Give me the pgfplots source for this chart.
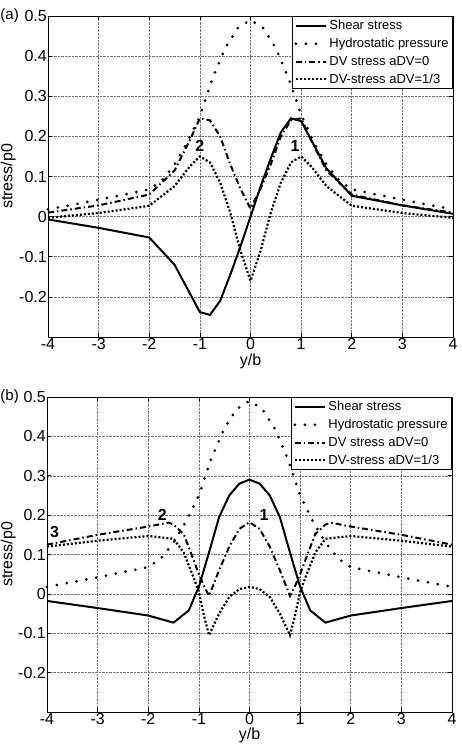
\documentclass[border=0pt]{standalone}
\usepackage{fontspec}
\setmainfont{Liberation Sans}
\usepackage{pgfplots}
\pgfplotsset{compat=1.18}
\pgfplotsset{
 panel/.style={
  scale only axis, width=405pt, height=321pt, clip=false,
  xmin=-4,xmax=4,ymin=-0.3,ymax=0.5,
  xtick={-4,-3,-2,-1,0,1,2,3,4}, xticklabels={-4,-3,-2,-1,0,1,2,3,4},
  ytick={-0.2,-0.1,0,0.1,0.2,0.3,0.4,0.5}, yticklabels={-0.2,-0.1,0,0.1,0.2,0.3,0.4,0.5},
  tick label style={font=\fontsize{16}{18}\selectfont},
  xticklabel style={inner sep=1pt},
  yticklabel style={inner sep=1pt},
  xlabel={y/b}, ylabel={stress/p0},
  every axis y label/.style={at={([xshift=-32pt]rel axis cs:0,0.5)}, rotate=90, anchor=south, inner sep=0pt, font=\fontsize{16}{18}\selectfont},
  every axis x label/.style={at={([yshift=-17pt]rel axis cs:0.5,0)}, anchor=north, inner sep=0pt, font=\fontsize{16}{18}\selectfont},
  grid=major, major grid style={densely dotted, black!55, line width=0.5pt},
  tick align=inside, major tick length=4pt, tick style={black, line width=0.6pt},
  axis line style={line width=0.8pt},
  legend style={at={(1,1)},anchor=north east, draw=black, line width=0.8pt, font=\fontsize{13}{15}\selectfont, inner xsep=2pt, inner ysep=2pt, row sep=3pt},
  legend cell align=left,
  legend image code/.code={\draw[##1] (0pt,0pt) -- (30pt,0pt);},
 },
 shear/.style={black, line width=2pt},
 hydro/.style={black, line width=3pt, dash pattern=on 0pt off 10pt, line cap=round},
 dv0/.style={black, line width=2pt, dash pattern=on 6pt off 3pt on 1.5pt off 3pt},
 dv13/.style={black, line width=2.2pt, dash pattern=on 2pt off 2pt},
}
\tikzset{lbl/.style={font=\bfseries\fontsize{16}{18}\selectfont}}
\begin{document}
\begin{tikzpicture}
\useasboundingbox (-48pt,16pt) rectangle (414pt,-730pt);
% ---------------- (a) ----------------
\begin{axis}[panel, at={(0pt,0pt)}, anchor=north west]
\addplot[shear] coordinates {(-4,-0.007) (-3,-0.028) (-2,-0.052) (-1.5,-0.12) (-1,-0.238) (-0.8,-0.245) (-0.6,-0.21) (-0.4,-0.145) (-0.2,-0.075) (0,0) (0.2,0.075) (0.4,0.145) (0.6,0.21) (0.8,0.245) (1,0.238) (1.5,0.12) (2,0.052) (3,0.028) (4,0.007)};
\addlegendentry{Shear stress}
\addplot[hydro] coordinates {(-4,0.018) (-3.5,0.03) (-3,0.042) (-2.5,0.055) (-2,0.068) (-1.75,0.09) (-1.5,0.13) (-1.25,0.185) (-1,0.25) (-0.75,0.345) (-0.5,0.42) (-0.25,0.47) (0,0.49) (0.25,0.47) (0.5,0.42) (0.75,0.345) (1,0.255) (1.25,0.185) (1.5,0.13) (1.75,0.09) (2,0.068) (2.5,0.055) (3,0.042) (3.5,0.03) (4,0.018)};
\addlegendentry{Hydrostatic pressure}
\addplot[dv0] coordinates {(-4,0.01) (-3,0.028) (-2,0.055) (-1.5,0.115) (-1.2,0.19) (-1,0.245) (-0.8,0.24) (-0.6,0.2) (-0.4,0.13) (-0.2,0.07) (0,0.02) (0.2,0.07) (0.4,0.13) (0.6,0.2) (0.8,0.24) (1,0.245) (1.2,0.19) (1.5,0.115) (2,0.055) (3,0.028) (4,0.01)};
\addlegendentry{DV stress aDV=0}
\addplot[dv13] coordinates {(-4,-0.003) (-3,0.009) (-2,0.027) (-1.5,0.076) (-1.2,0.125) (-1,0.15) (-0.8,0.135) (-0.6,0.085) (-0.4,0.01) (-0.2,-0.085) (0,-0.16) (0.2,-0.085) (0.4,0.01) (0.6,0.085) (0.8,0.135) (1,0.15) (1.2,0.125) (1.5,0.076) (2,0.027) (3,0.009) (4,-0.003)};
\addlegendentry{DV-stress aDV=1/3}
\node[lbl] at (axis cs:-1,0.177) {2};
\node[lbl] at (axis cs:0.88,0.177) {1};
\node[anchor=east, inner sep=0pt, font=\fontsize{15}{17}\selectfont] at ([xshift=-29pt]rel axis cs:0,1) {(a)};
\end{axis}
% ---------------- (b) ----------------
\begin{axis}[panel, at={(-1pt,-381pt)}, anchor=north west, height=315pt,
  every axis x label/.style={at={([yshift=-16pt]rel axis cs:0.5,0)}, anchor=north, inner sep=0pt, font=\fontsize{16}{18}\selectfont},
  every axis y label/.style={at={([xshift=-31pt]rel axis cs:0,0.5)}, rotate=90, anchor=south, inner sep=0pt, font=\fontsize{16}{18}\selectfont}]
\addplot[shear] coordinates {(-4,-0.018) (-3,-0.036) (-2,-0.055) (-1.5,-0.073) (-1.2,-0.042) (-1,0.018) (-0.8,0.105) (-0.6,0.195) (-0.4,0.25) (-0.2,0.28) (0,0.29) (0.2,0.28) (0.4,0.25) (0.6,0.195) (0.8,0.105) (1,0.018) (1.2,-0.042) (1.5,-0.073) (2,-0.055) (3,-0.036) (4,-0.018)};
\addlegendentry{Shear stress}
\addplot[hydro] coordinates {(-4,0.018) (-3.5,0.03) (-3,0.042) (-2.5,0.055) (-2,0.068) (-1.75,0.09) (-1.5,0.13) (-1.25,0.185) (-1,0.25) (-0.75,0.345) (-0.5,0.42) (-0.25,0.47) (0,0.49) (0.25,0.47) (0.5,0.42) (0.75,0.345) (1,0.25) (1.25,0.185) (1.5,0.13) (1.75,0.09) (2,0.068) (2.5,0.055) (3,0.042) (3.5,0.03) (4,0.018)};
\addlegendentry{Hydrostatic pressure}
\addplot[dv0] coordinates {(-4,0.125) (-3,0.15) (-2,0.171) (-1.6,0.181) (-1.5,0.176) (-1.3,0.152) (-1.1,0.085) (-1,0.05) (-0.9,0.02) (-0.8,-0.005) (-0.6,0.06) (-0.4,0.12) (-0.2,0.165) (0,0.182) (0.2,0.165) (0.4,0.12) (0.6,0.06) (0.8,-0.005) (0.9,0.02) (1,0.05) (1.1,0.085) (1.3,0.152) (1.5,0.176) (1.6,0.181) (2,0.171) (3,0.15) (4,0.125)};
\addlegendentry{DV stress aDV=0}
\addplot[dv13] coordinates {(-4,0.12) (-3,0.135) (-2,0.147) (-1.5,0.14) (-1.3,0.105) (-1.1,0.04) (-1,0.005) (-0.9,-0.055) (-0.8,-0.105) (-0.6,-0.05) (-0.4,-0.008) (-0.2,0.012) (0,0.018) (0.2,0.012) (0.4,-0.008) (0.6,-0.05) (0.8,-0.105) (0.9,-0.055) (1,0.005) (1.1,0.04) (1.3,0.105) (1.5,0.14) (2,0.147) (3,0.135) (4,0.12)};
\addlegendentry{DV-stress aDV=1/3}
\node[lbl] at (axis cs:-3.85,0.158) {3};
\node[lbl] at (axis cs:-1.72,0.2) {2};
\node[lbl] at (axis cs:0.29,0.2) {1};
\node[anchor=east, inner sep=0pt, font=\fontsize{15}{17}\selectfont] at ([xshift=-28pt]rel axis cs:0,1) {(b)};
\end{axis}
\end{tikzpicture}
\end{document}
